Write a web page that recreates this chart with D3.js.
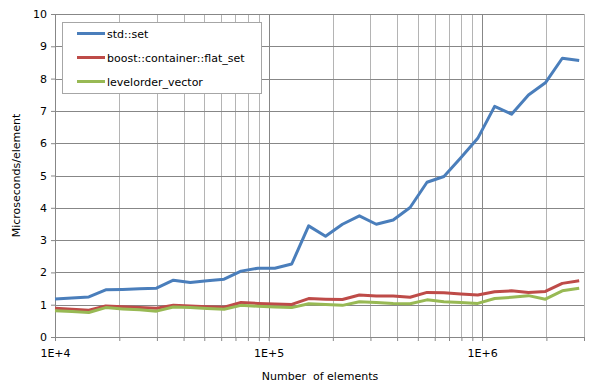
<!DOCTYPE html>
<html>
<head>
<meta charset="utf-8">
<script src="https://cdn.jsdelivr.net/npm/d3@7"></script>
<style>
  body { margin: 0; background: #fff; }
  text { font-family: "DejaVu Sans", Verdana, sans-serif; fill: #000; }
</style>
</head>
<body>
<div id="chart"></div>
<script>
// number of elements (x values)
var elements = [10000, 12000, 14400, 17280, 20736, 24883, 29860, 35832, 42998, 51598,
  61917, 74301, 89161, 106993, 128392, 154070, 184884, 221861, 266233, 319480,
  383376, 460051, 552061, 662474, 794968, 953962, 1144755, 1373706, 1648447,
  1978136, 2373763, 2848516];

// microseconds per element
var stdSet = [1.18, 1.21, 1.24, 1.46, 1.47, 1.49, 1.51, 1.76, 1.69, 1.74, 1.79, 2.04,
  2.13, 2.13, 2.26, 3.44, 3.12, 3.49, 3.75, 3.49, 3.62, 4.01, 4.79, 4.97, 5.55,
  6.15, 7.14, 6.90, 7.49, 7.87, 8.63, 8.56];
var flatSet = [0.89, 0.86, 0.83, 0.96, 0.94, 0.91, 0.89, 0.98, 0.96, 0.94, 0.92, 1.07,
  1.04, 1.02, 1.01, 1.19, 1.17, 1.16, 1.30, 1.27, 1.27, 1.23, 1.38, 1.37, 1.33,
  1.30, 1.40, 1.43, 1.38, 1.41, 1.66, 1.74];
var levelorder = [0.81, 0.79, 0.76, 0.91, 0.87, 0.84, 0.80, 0.93, 0.91, 0.88, 0.86, 0.98,
  0.95, 0.93, 0.91, 1.03, 1.01, 0.98, 1.09, 1.07, 1.04, 1.03, 1.15, 1.09, 1.07,
  1.04, 1.19, 1.23, 1.28, 1.17, 1.43, 1.51];

var seriesNames = ["std::set", "boost::container::flat_set", "levelorder_vector"];
var seriesColors = ["#4a7ebb", "#be4b48", "#98b954"];
var xTickLabels = ["1E+4", "1E+5", "1E+6"];
var yTicks = [0, 1, 2, 3, 4, 5, 6, 7, 8, 9, 10];

var svgWidth = 606, svgHeight = 390;
var margin = { top: 14, right: 22, bottom: 53, left: 55 };
var chartWidth = svgWidth - margin.left - margin.right;
var chartHeight = svgHeight - margin.top - margin.bottom;

var svg = d3.select("#chart").append("svg")
  .attr("width", svgWidth)
  .attr("height", svgHeight);

var chartGroup = svg.append("g")
  .attr("transform", `translate(${margin.left}, ${margin.top})`);

var xScale = d3.scaleLog()
  .domain([1e4, 3e6])
  .range([0, chartWidth]);

var yScale = d3.scaleLinear()
  .domain([0, 10])
  .range([chartHeight, 0]);

// minor and major vertical gridlines
var gridX = [];
[1e4, 1e5, 1e6].forEach(function(dec) {
  for (var m = 1; m <= 9; m++) {
    if (dec * m <= 3e6) gridX.push(dec * m);
  }
});

function isDecade(d) {
  return Math.abs(Math.log10(d) % 1) < 1e-9;
}

chartGroup.selectAll(".vgrid")
  .data(gridX)
  .enter()
  .append("line")
  .attr("x1", d => Math.round(xScale(d)) + 0.5)
  .attr("x2", d => Math.round(xScale(d)) + 0.5)
  .attr("y1", 0)
  .attr("y2", chartHeight)
  .attr("stroke", d => isDecade(d) ? "#878787" : "#b4b4b4")
  .attr("stroke-width", 1);

chartGroup.selectAll(".hgrid")
  .data(yTicks)
  .enter()
  .append("line")
  .attr("x1", 0)
  .attr("x2", chartWidth)
  .attr("y1", d => Math.round(yScale(d)) + 0.5)
  .attr("y2", d => Math.round(yScale(d)) + 0.5)
  .attr("stroke", "#878787")
  .attr("stroke-width", 1);

// y axis
var yAxis = d3.axisLeft(yScale)
  .tickValues(yTicks)
  .tickSize(4)
  .tickPadding(4)
  .tickSizeOuter(0);

var yAxisG = chartGroup.append("g").call(yAxis);
yAxisG.select(".domain").attr("stroke", "#878787");
yAxisG.selectAll(".tick line").attr("stroke", "#878787");
yAxisG.selectAll(".tick text")
  .attr("font-size", "11px")
  .attr("font-family", "DejaVu Sans, Verdana, sans-serif");

// x axis
var xAxis = d3.axisBottom(xScale)
  .tickValues(gridX)
  .tickSize(4)
  .tickPadding(8)
  .tickSizeOuter(0)
  .tickFormat(function(d) {
    var lbl = "1E+" + Math.round(Math.log10(d));
    return (isDecade(d) && xTickLabels.indexOf(lbl) >= 0) ? lbl : "";
  });

var xAxisG = chartGroup.append("g")
  .attr("transform", `translate(0, ${chartHeight})`)
  .call(xAxis);
xAxisG.select(".domain").attr("stroke", "#878787");
xAxisG.selectAll(".tick line").attr("stroke", "#878787");
xAxisG.selectAll(".tick text")
  .attr("font-size", "11px")
  .attr("font-family", "DejaVu Sans, Verdana, sans-serif");

// lines
var allSeries = [stdSet, flatSet, levelorder];
var line = d3.line()
  .x((d, i) => xScale(elements[i]))
  .y(d => yScale(d));

allSeries.forEach(function(vals, k) {
  chartGroup.append("path")
    .datum(vals)
    .attr("d", line)
    .attr("fill", "none")
    .attr("stroke", seriesColors[k])
    .attr("stroke-width", 3)
    .attr("stroke-linejoin", "round");
});

// legend
var legend = svg.append("g").attr("transform", "translate(62, 22)");
legend.append("rect")
  .attr("x", 0.5).attr("y", 0.5)
  .attr("width", 199).attr("height", 71)
  .attr("fill", "#fff")
  .attr("stroke", "#a6a6a6");

seriesNames.forEach(function(name, k) {
  var gy = 11.5 + k * 24;
  legend.append("line")
    .attr("x1", 15).attr("x2", 43)
    .attr("y1", gy).attr("y2", gy)
    .attr("stroke", seriesColors[k])
    .attr("stroke-width", 3);
  legend.append("text")
    .attr("x", 45).attr("y", gy + 4)
    .attr("font-size", "11px")
    .text(name);
});

// axis titles
svg.append("text")
  .attr("transform", `translate(20, ${margin.top + chartHeight / 2}) rotate(-90)`)
  .attr("text-anchor", "middle")
  .attr("font-size", "11px")
  .text("Microseconds/element");

svg.append("text")
  .attr("x", 320)
  .attr("y", 380)
  .attr("text-anchor", "middle")
  .attr("font-size", "11px")
  .style("white-space", "pre")
  .text("Number  of elements");
</script>
</body>
</html>
